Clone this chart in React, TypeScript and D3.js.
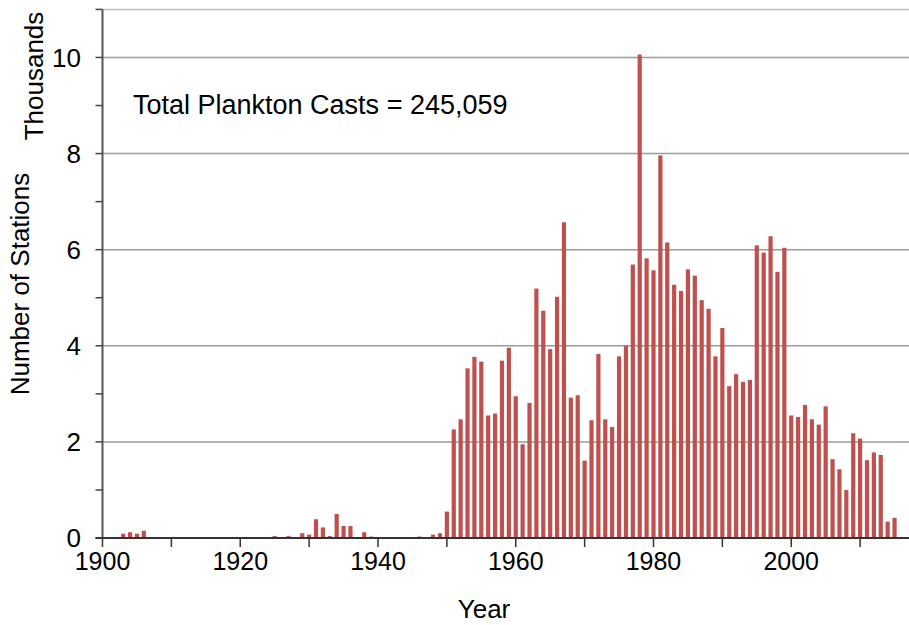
import * as d3 from 'd3'

const years = [
  1903, 1904, 1905, 1906, 1925, 1927, 1929, 1930, 1931, 1932, 1933, 1934, 1935, 1936, 1938, 1939,
  1946, 1948, 1949,
  1950, 1951, 1952, 1953, 1954, 1955, 1956, 1957, 1958, 1959,
  1960, 1961, 1962, 1963, 1964, 1965, 1966, 1967, 1968, 1969,
  1970, 1971, 1972, 1973, 1974, 1975, 1976, 1977, 1978, 1979,
  1980, 1981, 1982, 1983, 1984, 1985, 1986, 1987, 1988, 1989,
  1990, 1991, 1992, 1993, 1994, 1995, 1996, 1997, 1998, 1999,
  2000, 2001, 2002, 2003, 2004, 2005, 2006, 2007, 2008, 2009,
  2010, 2011, 2012, 2013, 2014, 2015,
]

// thousands of stations
const stations = [
  0.09, 0.12, 0.09, 0.15, 0.04, 0.04, 0.1, 0.07, 0.39, 0.22, 0.04, 0.5, 0.25, 0.25, 0.12, 0.03,
  0.03, 0.07, 0.1,
  0.55, 2.26, 2.47, 3.53, 3.77, 3.67, 2.55, 2.59, 3.69, 3.96,
  2.95, 1.95, 2.81, 5.19, 4.73, 3.93, 5.02, 6.57, 2.92, 2.97,
  1.61, 2.45, 3.83, 2.47, 2.31, 3.78, 4.0, 5.69, 10.06, 5.82,
  5.57, 7.96, 6.15, 5.27, 5.14, 5.59, 5.46, 4.95, 4.77, 3.78,
  4.37, 3.16, 3.41, 3.25, 3.29, 6.09, 5.94, 6.28, 5.54, 6.04,
  2.55, 2.52, 2.77, 2.47, 2.36, 2.74, 1.64, 1.43, 1.0, 2.18,
  2.07, 1.62, 1.78, 1.73, 0.34, 0.42,
]

const xTicks = [1900, 1910, 1920, 1930, 1940, 1950, 1960, 1970, 1980, 1990, 2000, 2010]
const xLabels = [1900, 1920, 1940, 1960, 1980, 2000]
const yTicks = d3.range(0, 12)
const yLabels = [0, 2, 4, 6, 8, 10]
const gridValues = [2, 4, 6, 8, 10]

const title = 'Total Plankton Casts = 245,059'
const font = 'Arial, "Liberation Sans", sans-serif'

export default function App() {
  const width = 909
  const height = 625
  const margin = { top: 9.4, right: 0, bottom: 87, left: 102.5 }

  const x = d3
    .scaleLinear()
    .domain([1900, 2017.1])
    .range([margin.left, width - margin.right])

  const y = d3
    .scaleLinear()
    .domain([0, 11])
    .range([height - margin.bottom, margin.top])

  const barW = 4.2
  const y0 = y(0)

  return (
    <svg
      width={width}
      height={height}
      style={{ position: 'absolute', left: 0, top: 0, background: '#fff' }}
      fontFamily={font}
    >
      {/* grid */}
      {gridValues.map((v) => (
        <line
          key={v}
          x1={margin.left}
          x2={width}
          y1={y(v)}
          y2={y(v)}
          stroke="#9a9a9a"
          strokeWidth={1.5}
        />
      ))}
      <line x1={margin.left} x2={width} y1={y(11)} y2={y(11)} stroke="#bdbdbd" strokeWidth={1.5} />

      {/* bars */}
      {years.map((yr, i) => (
        <rect
          key={yr}
          x={x(yr) - barW / 2}
          y={y(stations[i])}
          width={barW}
          height={y0 - y(stations[i])}
          fill="#C0504D"
        />
      ))}

      {/* y axis */}
      <line x1={margin.left} x2={margin.left} y1={y(11)} y2={y0} stroke="#555" strokeWidth={2} />
      {yTicks.map((t) => (
        <line key={t} x1={margin.left - 7} x2={margin.left} y1={y(t)} y2={y(t)} stroke="#444" strokeWidth={1.5} />
      ))}
      {yLabels.map((t) => (
        <text key={t} x={81} y={y(t)} dy="0.36em" textAnchor="end" fontSize={26} fill="#000">
          {t}
        </text>
      ))}

      {/* x axis */}
      <line x1={margin.left - 7} x2={width} y1={y0} y2={y0} stroke="#333" strokeWidth={2} />
      {xTicks.map((t) => (
        <line key={t} x1={x(t)} x2={x(t)} y1={y0} y2={y0 + 9} stroke="#333" strokeWidth={1.5} />
      ))}
      {xLabels.map((t) => (
        <text key={t} x={x(t)} y={570} textAnchor="middle" fontSize={25} fill="#000">
          {t}
        </text>
      ))}

      {/* axis titles */}
      <text x={484} y={618} textAnchor="middle" fontSize={26} fill="#000">
        Year
      </text>
      <text transform="translate(29,284) rotate(-90)" textAnchor="middle" fontSize={26} fill="#000">
        Number of Stations
      </text>
      <text transform="translate(43,76) rotate(-90)" textAnchor="middle" fontSize={26} fill="#000">
        Thousands
      </text>

      <text x={133} y={114} fontSize={27} fill="#000">
        {title}
      </text>
    </svg>
  )
}
